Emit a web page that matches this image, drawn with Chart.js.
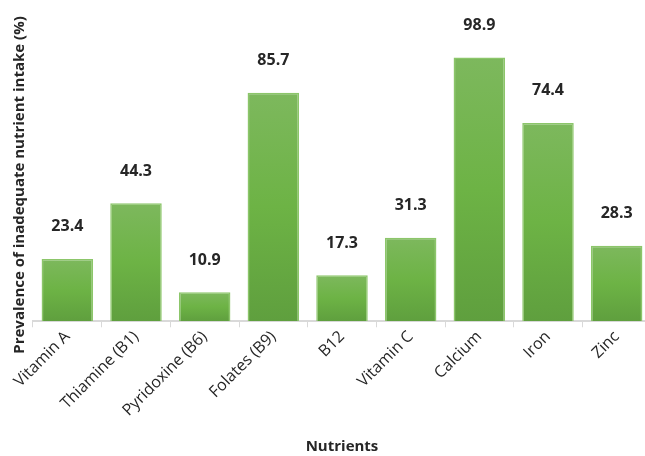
<!DOCTYPE html>
<html>
<head>
<meta charset="utf-8">
<script src="https://cdn.jsdelivr.net/npm/chart.js@4"></script>
<style>
  html, body { margin: 0; padding: 0; background: #fff; overflow: hidden; }
  #wrap { width: 651px; height: 456px; }
</style>
</head>
<body>
<div id="wrap"><canvas id="nutrientChart"></canvas></div>
<script>
const nutrients = ['Vitamin A', 'Thiamine (B1)', 'Pyridoxine (B6)', 'Folates (B9)', 'B12', 'Vitamin C', 'Calcium', 'Iron', 'Zinc'];
const prevalence = [23.4, 44.3, 10.9, 85.7, 17.3, 31.3, 98.9, 74.4, 28.3];
const yTitle = 'Prevalence of inadequate nutrient intake (%)';

// Excel-style vertical gradient on each bar
function barGradient(context) {
  const chart = context.chart;
  const yScale = chart.scales.y;
  if (!yScale || !context.parsed) return '#6cae47';
  const top = yScale.getPixelForValue(context.parsed.y);
  const bottom = yScale.getPixelForValue(0);
  if (!isFinite(top) || !isFinite(bottom) || top === bottom) return '#6cae47';
  const g = chart.ctx.createLinearGradient(0, top, 0, bottom);
  g.addColorStop(0, '#7db85d');
  g.addColorStop(0.5, '#6db345');
  g.addColorStop(1, '#5f9f3e');
  return g;
}

// value labels above bars + the y title (sits lower than the plot centre, like the original)
const annotations = {
  id: 'annotations',
  afterDatasetsDraw(chart) {
    const ctx = chart.ctx;
    const meta = chart.getDatasetMeta(0);
    ctx.save();
    ctx.font = 'bold 16px "Open Sans", sans-serif';
    ctx.fillStyle = '#262626';
    ctx.textAlign = 'center';
    ctx.textBaseline = 'middle';
    meta.data.forEach((bar, i) => {
      ctx.fillText(prevalence[i].toFixed(1), bar.x, bar.y - 32);
    });

    ctx.translate(20, 185);
    ctx.rotate(-Math.PI / 2);
    ctx.font = 'bold 15px "Open Sans", sans-serif';
    ctx.fillText(yTitle, 0, 0);
    ctx.restore();
  }
};

const ctx = document.getElementById('nutrientChart').getContext('2d');
new Chart(ctx, {
  type: 'bar',
  data: {
    labels: nutrients,
    datasets: [{
      data: prevalence,
      backgroundColor: barGradient,
      borderColor: '#8cc66a',
      borderWidth: 1.5,
      barPercentage: 0.75,
      categoryPercentage: 1.0
    }]
  },
  options: {
    responsive: true,
    maintainAspectRatio: false,
    animation: false,
    layout: { padding: { top: 28, right: 0, left: 33, bottom: 0 } },
    plugins: {
      legend: { display: false },
      tooltip: { enabled: false }
    },
    scales: {
      x: {
        grid: { display: true, drawOnChartArea: false, offset: true, color: '#d9d9d9', tickLength: 6 },
        border: { color: '#d9d9d9', width: 2 },
        ticks: {
          color: '#262626',
          font: { family: '"Open Sans", sans-serif', size: 16 },
          maxRotation: 45,
          minRotation: 45,
          padding: 0
        },
        title: {
          display: true,
          text: 'Nutrients',
          color: '#262626',
          font: { family: '"Open Sans", sans-serif', size: 15, weight: 'bold' },
          padding: { top: 18, bottom: 0 }
        }
      },
      y: {
        display: false,
        min: 0,
        max: 110
      }
    }
  },
  plugins: [annotations]
});
</script>
</body>
</html>
